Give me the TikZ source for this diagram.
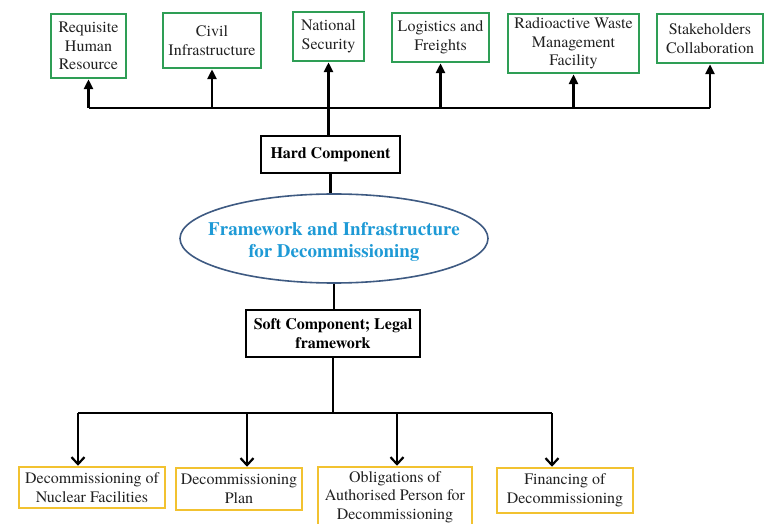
\documentclass[tikz,border=0pt]{standalone}
\usepackage{fontspec}
\setmainfont{texgyretermes}[Extension=.otf, UprightFont=*-regular, BoldFont=*-bold, ItalicFont=*-italic, BoldItalicFont=*-bolditalic]
\usetikzlibrary{arrows.meta,shapes.geometric}
\definecolor{boxgreen}{HTML}{2E9E55}
\definecolor{boxyellow}{HTML}{F2C230}
\definecolor{titleblue}{HTML}{1E9AD6}
\definecolor{ellipseedge}{HTML}{3E5A82}
\definecolor{txt}{HTML}{222222}
\begin{document}
\begin{tikzpicture}[x=1pt,y=-1pt,
  greenbox/.style={draw=boxgreen, line width=2.5pt, fill=white, align=center, inner sep=0pt, text=txt, font=\fontsize{16}{18.5}\selectfont},
  yellowbox/.style={draw=boxyellow, line width=2.5pt, fill=white, align=center, inner sep=0pt, text=txt, font=\fontsize{16}{18.5}\selectfont},
  blackbox/.style={draw=black, line width=1.8pt, fill=white, align=center, inner sep=0pt, font=\bfseries\fontsize{16}{19}\selectfont},
  bus/.style={draw=black, line width=2.6pt},
  uparrow/.style={draw=black, line width=2.6pt, -{Triangle[length=10pt,width=9pt]}},
  downarrow/.style={draw=black, line width=2.2pt, -{Straight Barb[length=7pt,width=13pt,line width=2.2pt]}}
]
\useasboundingbox (0,0) rectangle (764,524);

% top boxes
\node[greenbox, minimum width=75pt, minimum height=64pt] (t1) at (88.5,46) {Requisite\\Human\\Resource};
\node[greenbox, minimum width=98pt, minimum height=55pt] (t2) at (212,40.5) {Civil\\Infrastructure};
\node[greenbox, minimum width=71pt, minimum height=49pt] (t3) at (328.5,36.5) {National\\Security};
\node[greenbox, minimum width=97pt, minimum height=49pt] (t4) at (440.5,37.5) {Logistics and\\Freights};
\node[greenbox, minimum width=131pt, minimum height=59pt] (t5) at (573.5,43.5) {Radioactive Waste\\Management\\Facility};
\node[greenbox, minimum width=106pt, minimum height=49pt] (t6) at (710,38.5) {Stakeholders\\Collaboration};

% centre
\node[blackbox, minimum width=139pt, minimum height=37pt] (hard) at (330.5,154.5) {Hard Component};
\node[ellipse, draw=ellipseedge, line width=1.6pt, fill=white, minimum width=308pt, minimum height=89pt, inner sep=0pt, text=titleblue, font=\bfseries\fontsize{19}{22}\selectfont] (ell) at (334,238.5) {\makebox[0pt]{\smash{\raisebox{-8pt}{\begin{tabular}{@{}c@{}}Framework and Infrastructure\\for Decommissioning\end{tabular}}}}};
\node[blackbox, minimum width=174pt, minimum height=47pt] (soft) at (333,333.5) {Soft Component; Legal\\framework};

% bottom boxes
\node[yellowbox, minimum width=146pt, minimum height=41pt] (b1) at (92,487.5) {Decommissioning of\\Nuclear Facilities};
\node[yellowbox, minimum width=126pt, minimum height=42pt] (b2) at (239,489) {Decommissioning\\Plan};
\node[yellowbox, minimum width=154pt, minimum height=60pt] (b3) at (395,497) {Obligations of\\Authorised Person for\\Decommissioning};
\node[yellowbox, minimum width=136pt, minimum height=45pt] (b4) at (565,490.5) {Financing of\\Decommissioning};

% top bus
\coordinate (tbus) at (0,108);
\draw[bus] (t1.south |- tbus) -- (t6.south |- tbus);
\draw[uparrow] (t1.south |- tbus) -- (t1.south);
\draw[uparrow] (t2.south |- tbus) -- (t2.south);
\draw[uparrow] (t3.south |- hard.north) -- (t3.south);
\draw[uparrow] (t4.south |- tbus) -- (t4.south);
\draw[uparrow] (t5.south |- tbus) -- (t5.south);
\draw[uparrow] (t6.south |- tbus) -- (t6.south);

% centre links
\draw[bus] (hard.south) -- (hard.south |- ell.north);
\draw[bus] (ell.south) -- (ell.south |- soft.north);

% bottom bus
\coordinate (j1) at (78,413);
\coordinate (j2) at (247,413);
\coordinate (j3) at (397,413);
\coordinate (j4) at (552,413);
\draw[bus] (soft.south) -- (soft.south |- j1);
\draw[bus, line width=2.2pt] (j1) -- (j4);
\draw[downarrow] (j1) -- (j1 |- b1.north);
\draw[downarrow] (j2) -- (j2 |- b2.north);
\draw[downarrow] (j3) -- (j3 |- b3.north);
\draw[downarrow] (j4) -- (j4 |- b4.north);
\end{tikzpicture}
\end{document}
